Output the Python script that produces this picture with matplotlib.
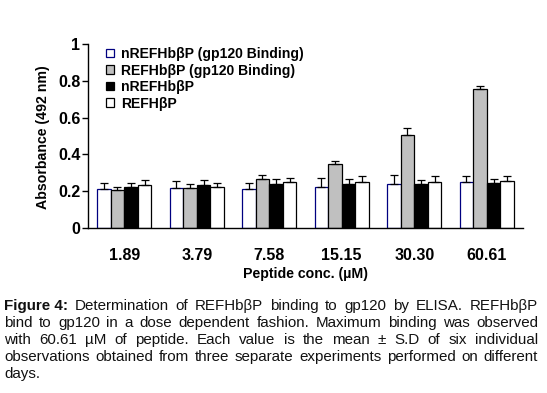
import math
import numpy as np
import matplotlib
matplotlib.use("Agg")
import matplotlib.pyplot as plt
from matplotlib.patches import Rectangle
from matplotlib.font_manager import FontProperties

plt.rcParams['font.family'] = ['Liberation Sans', 'DejaVu Sans']

# data
concs = ["1.89", "3.79", "7.58", "15.15", "30.30", "60.61"]
series = ["nREFHbβP (gp120 Binding)", "REFHbβP (gp120 Binding)", "nREFHbβP", "REFHβP"]
n_gp120 = [0.213, 0.218, 0.213, 0.224, 0.240, 0.251]
r_gp120 = [0.205, 0.218, 0.268, 0.350, 0.507, 0.753]
n_ref = [0.224, 0.235, 0.238, 0.242, 0.240, 0.246]
r_ref = [0.235, 0.224, 0.251, 0.251, 0.251, 0.257]
n_gp120_err = [0.030, 0.039, 0.033, 0.049, 0.049, 0.033]
r_gp120_err = [0.019, 0.022, 0.022, 0.016, 0.036, 0.017]
n_ref_err = [0.019, 0.025, 0.030, 0.026, 0.022, 0.022]
r_ref_err = [0.025, 0.019, 0.022, 0.033, 0.033, 0.027]

values = [n_gp120, r_gp120, n_ref, r_ref]
errors = [n_gp120_err, r_gp120_err, n_ref_err, r_ref_err]
faces = ["white", "#c0c0c0", "black", "white"]
edges = ["#000080", "black", "black", "black"]

caption_lines = [
    "Determination of REFHbβP binding to gp120 by ELISA. REFHbβP",
    "bind to gp120 in a dose dependent fashion. Maximum binding  was observed",
    "with 60.61 µM of peptide. Each value is the mean ± S.D of six individual",
    "observations obtained from three separate experiments performed on different",
    "days.",
]

W, H = 547, 393
fig = plt.figure(figsize=(W / 100, H / 100), dpi=100)
ax = fig.add_axes([88 / W, 1 - 228.3 / H, 435 / W, 184.6 / H])

x = np.arange(len(concs))
w = 0.1875
for i in range(4):
    pos = x + (i - 1.5) * w
    ax.bar(pos, values[i], width=w, color=faces[i], edgecolor=edges[i], linewidth=0.9)
    ax.errorbar(pos, values[i], yerr=[np.zeros(len(concs)), errors[i]], fmt='none',
                ecolor='black', elinewidth=0.9, capsize=3, capthick=0.9)

ax.set_xlim(-0.5, 5.5)
ax.set_ylim(0, 1)
ax.set_yticks([0, 0.2, 0.4, 0.6, 0.8, 1])
ax.set_yticklabels(["0", "0.2", "0.4", "0.6", "0.8", "1"])
ax.set_xticks(x)
ax.set_xticklabels(concs)
for s in ["top", "right"]:
    ax.spines[s].set_visible(False)
for s in ["left", "bottom"]:
    ax.spines[s].set_linewidth(1.0)
ax.tick_params(axis='y', length=4, width=1.0, pad=1.5, labelsize=11.5)
ax.tick_params(axis='x', length=0, pad=14, labelsize=11.5)
for lab in ax.get_xticklabels() + ax.get_yticklabels():
    lab.set_fontweight('bold')

fig.text(43 / W, 1 - 137 / H, "Absorbance (492 nm)", rotation=90, ha='center', va='center',
         fontsize=10.2, fontweight='bold')
fig.text(305.5 / W, 1 - 274 / H, "Peptide conc. (µM)", ha='center', va='center',
         fontsize=10.2, fontweight='bold')

handles = [Rectangle((0, 0), 1, 1, facecolor=faces[i], edgecolor=edges[i], linewidth=0.9)
           for i in range(4)]
leg = ax.legend(handles, series, loc='upper left', bbox_to_anchor=(106 / W, 1 - 47 / H),
                bbox_transform=fig.transFigure, frameon=False, handlelength=0.55,
                handleheight=0.55, handletextpad=0.5, labelspacing=0.18,
                borderpad=0, borderaxespad=0, prop={'size': 10.1, 'weight': 'bold'})

# caption, word by word and justified like the source page
fs = 10.9
left, right = 4, 538
baselines = [310, 327, 344, 361, 378]
fig.canvas.draw()
renderer = fig.canvas.get_renderer()

for k, line in enumerate(caption_lines):
    items = []
    if k == 0:
        items.append(("Figure 4:", 'bold'))
    items += [(wd, 'normal') for wd in line.split()]
    texts, widths = [], []
    for wd, weight in items:
        prop = FontProperties(family=['Liberation Sans', 'DejaVu Sans'], size=fs, weight=weight)
        _, _, d = renderer.get_text_width_height_descent(wd, prop, ismath=False)
        # keep every word on the same pixel baseline after Agg rounds the bitmap
        ytop = baselines[k] + math.ceil(d - 1e-6) - d
        t = fig.text(0, 1 - ytop / H, wd, ha='left', va='baseline', fontproperties=prop,
                     color='#111111')
        texts.append(t)
        widths.append(t.get_window_extent(renderer).width)
    if k < len(caption_lines) - 1:
        gap = (right - left - sum(widths)) / (len(texts) - 1)
    else:
        gap = 0.278 * fs * 100 / 72
    xpos = left
    for t, wid in zip(texts, widths):
        t.set_x(xpos / W)
        xpos += wid + gap

fig.savefig("out.png", dpi=100)
